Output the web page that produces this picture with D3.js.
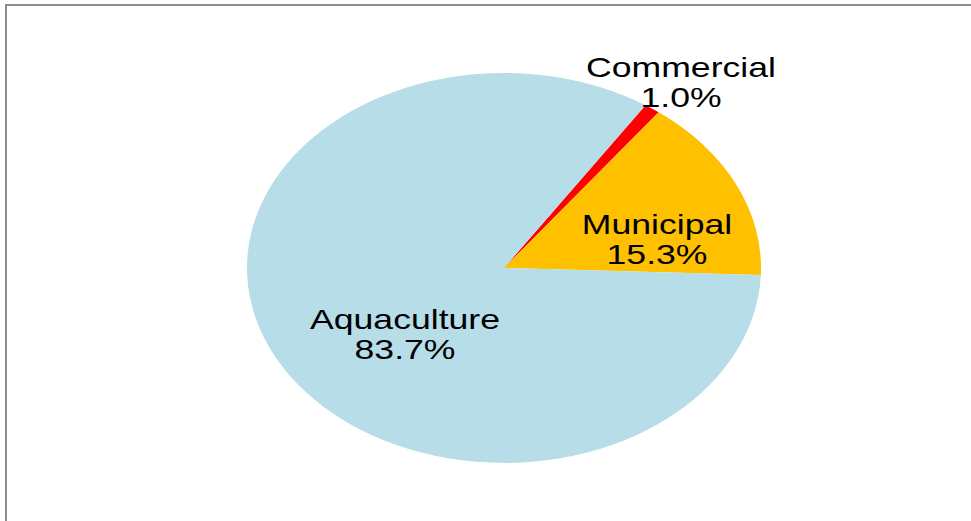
<!DOCTYPE html>
<html>
<head>
<meta charset="utf-8">
<script src="https://cdn.jsdelivr.net/npm/d3@7"></script>
<style>
  html, body { margin: 0; padding: 0; background: #ffffff; }
  svg { display: block; }
</style>
</head>
<body>
<svg id="chart" width="971" height="521"></svg>
<script>
// ---- data ----
const categories = ["Commercial", "Municipal", "Aquaculture"];
const shares = [1.0, 15.3, 83.7];
const colors = ["#FF0000", "#FFC000", "#B7DDE8"];

// ---- layout ----
const W = 971, H = 521;
const cx = 504, cy = 268;
const R = 195;          // vertical radius
const stretch = 1.318;  // horizontal stretch of the picture
const startDeg = 33.4;

const svg = d3.select("#chart");

// frame (top and left edges visible)
svg.append("path")
  .attr("d", `M6,${H} L6,5 L${W},5`)
  .attr("fill", "none")
  .attr("stroke", "#8c8c8c")
  .attr("stroke-width", 2);

const data = categories.map((c, i) => ({ name: c, value: shares[i], color: colors[i] }));

const pie = d3.pie()
  .sort(null)
  .value(d => d.value)
  .startAngle(startDeg * Math.PI / 180)
  .endAngle(startDeg * Math.PI / 180 + 2 * Math.PI);

const arc = d3.arc().innerRadius(0).outerRadius(R);

const g = svg.append("g")
  .attr("transform", `translate(${cx},${cy}) scale(${stretch},1)`);

g.selectAll("path.slice")
  .data(pie(data))
  .join("path")
  .attr("class", "slice")
  .attr("d", arc)
  .attr("fill", d => d.data.color)
  .attr("stroke", "none");

// label anchor points (screen pixels, baseline of first line)
const labelAnchor = {
  "Commercial": [681, 77],
  "Municipal": [657, 234],
  "Aquaculture": [405, 329]
};
const lineGap = 30;

const fmt = d3.format(".1f");
const labels = svg.selectAll("g.label")
  .data(data)
  .join("g")
  .attr("class", "label")
  .attr("transform", d => `translate(${labelAnchor[d.name][0]},${labelAnchor[d.name][1]}) scale(${stretch},1)`);

labels.append("text")
  .attr("text-anchor", "middle")
  .attr("font-family", "'Liberation Sans', Arial, sans-serif")
  .attr("font-size", 27)
  .attr("fill", "#000000")
  .text(d => d.name);

labels.append("text")
  .attr("text-anchor", "middle")
  .attr("y", lineGap)
  .attr("font-family", "'Liberation Sans', Arial, sans-serif")
  .attr("font-size", 27)
  .attr("fill", "#000000")
  .text(d => fmt(d.value) + "%");
</script>
</body>
</html>
